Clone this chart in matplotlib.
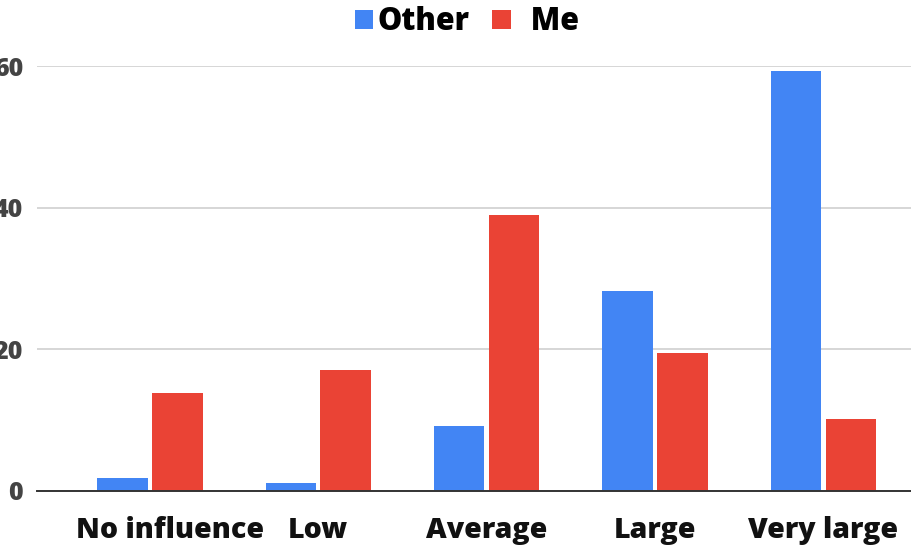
import numpy as np
import matplotlib.pyplot as plt
import matplotlib.transforms as mtransforms

plt.rcParams['font.family'] = ['Open Sans', 'DejaVu Sans']
plt.rcParams['font.weight'] = 'heavy'

categories = ['No influence', 'Low', 'Average', 'Large', 'Very large']
other = [1.9, 1.1, 9.2, 28.3, 59.3]
me = [13.8, 17.1, 38.9, 19.5, 10.2]
y_ticks = [0, 20, 40, 60]

BLUE = '#4285F4'
RED = '#EA4335'

fig = plt.figure(figsize=(9.11, 5.46), dpi=100)
ax = fig.add_axes([37 / 911, 55 / 546, 874 / 911, 425 / 546])

x = np.arange(len(categories))
w = 0.30
off = 0.163
ax.bar(x - off, other, width=w, color=BLUE, label='Other', zorder=3)
ax.bar(x + off, me, width=w, color=RED, label='  Me', zorder=3)

ax.set_xlim(-0.67, 4.52)
ax.set_ylim(0, 60)
ax.set_yticks(y_ticks)
ax.set_yticklabels([str(v) for v in y_ticks], fontsize=18, color='#444444',
                   fontweight='heavy')
ax.set_xticks(x)
ax.set_xticklabels(categories, fontsize=20.5, fontweight='heavy', color='#111111')
ax.tick_params(axis='y', length=0, pad=10)
ax.tick_params(axis='x', length=0, pad=18)

# first label sits a bit to the right of its group
lbl = ax.get_xticklabels()[0]
lbl.set_transform(lbl.get_transform() +
                  mtransforms.ScaledTranslation(0.2, 0, fig.dpi_scale_trans))

ax.yaxis.grid(True, color='#cfcfcf', linewidth=1.2, zorder=0)
ax.set_axisbelow(True)
for s in ['top', 'right', 'left']:
    ax.spines[s].set_visible(False)
ax.spines['bottom'].set_color('#333333')
ax.spines['bottom'].set_linewidth(1.4)
ax.spines['bottom'].set_zorder(4)

fig.legend(loc='center', bbox_to_anchor=(467 / 911, 1 - 22 / 546), ncol=2,
           frameon=False, handlelength=0.6, handleheight=0.6,
           handletextpad=0.15, columnspacing=0.75,
           prop={'weight': 'heavy', 'size': 22})

fig.savefig('out.png', dpi=100)
